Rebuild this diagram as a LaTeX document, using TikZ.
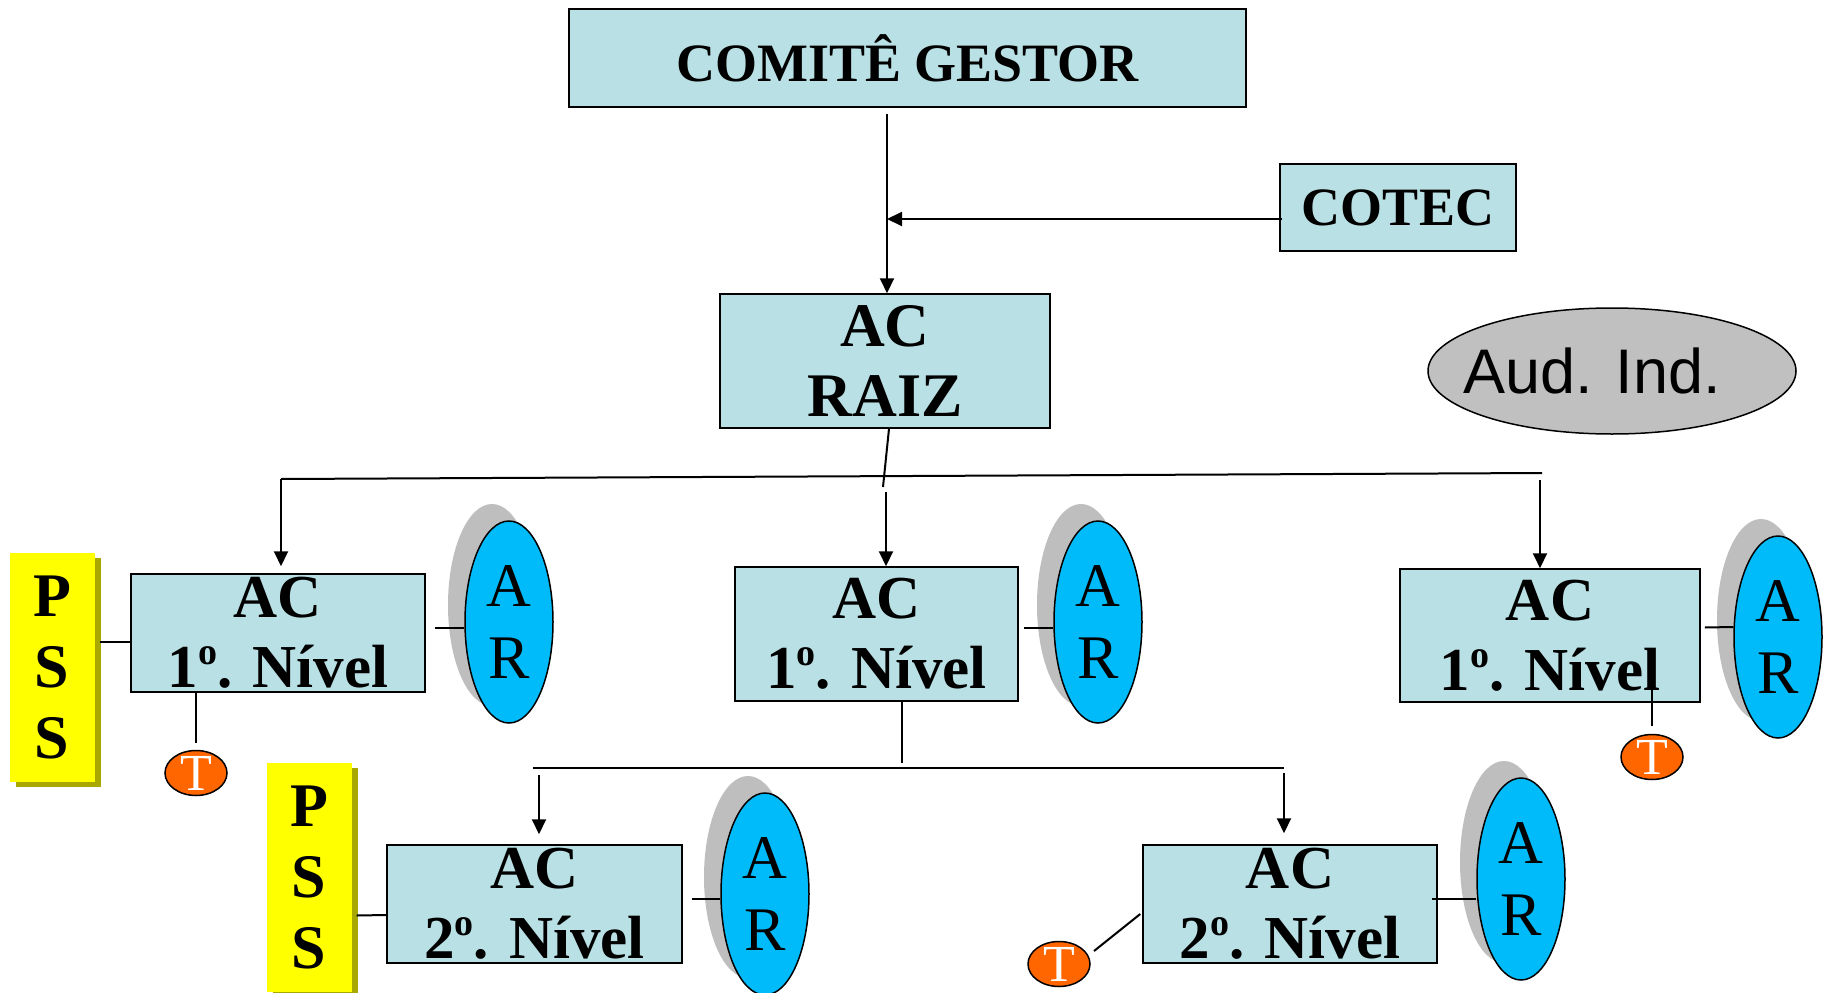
\documentclass[tikz,border=0pt]{standalone}
\usepackage{fontspec}
\setmainfont{Liberation Serif}
\newfontfamily\arialf{Liberation Sans}
\usetikzlibrary{shapes.geometric,arrows.meta,calc,shadows}
\definecolor{boxc}{RGB}{185,224,228}
\definecolor{arblue}{RGB}{0,187,250}
\definecolor{arshadow}{RGB}{190,190,190}
\definecolor{pssyellow}{RGB}{255,255,0}
\definecolor{pssolive}{RGB}{168,168,0}
\definecolor{torange}{RGB}{255,102,0}
\definecolor{audgray}{RGB}{192,192,192}
\newcommand\ordo{\raisebox{23pt}{\fontsize{38}{38}\selectfont o}}
\begin{document}
\begin{tikzpicture}[x=1pt,y=-1pt,
  line/.style={line width=2pt},
  arr/.style={line width=2pt,-{Triangle[length=15pt,width=14pt]}},
  acbox/.style={draw,line width=1.5pt,fill=boxc,inner sep=0pt,align=center,
    font=\bfseries\fontsize{61}{70}\selectfont},
  arnode/.style={ellipse,draw,line width=1.5pt,fill=arblue,minimum width=88pt,
    minimum height=202pt,inner sep=0pt,align=center,
    font=\fontsize{62}{72}\selectfont,
    drop shadow={shadow xshift=-17pt,shadow yshift=17pt,fill=arshadow,opacity=1}},
  pssnode/.style={fill=pssyellow,minimum width=85pt,minimum height=229pt,inner sep=0pt,
    align=center,font=\bfseries\fontsize{62}{71}\selectfont,
    drop shadow={shadow xshift=6pt,shadow yshift=-5pt,fill=pssolive,opacity=1}},
  tnode/.style={ellipse,draw,line width=1.5pt,fill=torange,text=white,minimum width=62pt,
    minimum height=45pt,inner sep=0pt,font=\fontsize{52}{52}\selectfont}
]
\useasboundingbox (0,0) rectangle (1829,993);
\fill[white] (0,0) rectangle (1829,993);

% top boxes
\node[acbox,minimum width=677pt,minimum height=98pt,font=\bfseries\fontsize{54}{60}\selectfont] (cg) at (907.5,58) {COMITÊ GESTOR};
\node[acbox,minimum width=236pt,minimum height=87pt,font=\bfseries\fontsize{54}{60}\selectfont] (cotec) at (1398,207.5) {COTEC};
\node[acbox,minimum width=330pt,minimum height=134pt,font=\bfseries\fontsize{62}{70}\selectfont] (raiz) at (885,361) {AC\\RAIZ};
\node[ellipse,draw,line width=1.5pt,fill=audgray,minimum width=368pt,minimum height=126pt,inner sep=0pt,
  font=\arialf\fontsize{63}{63}\selectfont] (aud) at (1612,371) {\makebox[0pt][c]{\hspace*{-40pt}Aud. Ind.}};

% first level
\node[acbox,minimum width=294pt,minimum height=118pt] (ac1a) at (278,633) {AC\\1\ordo. Nível};
\node[acbox,minimum width=283pt,minimum height=134pt] (ac1b) at (876.5,634) {AC\\1\ordo. Nível};
\node[acbox,minimum width=300pt,minimum height=133pt] (ac1c) at (1550,635.5) {AC\\1\ordo. Nível};

% second level
\node[acbox,minimum width=295pt,minimum height=118pt] (ac2a) at (534.5,904) {AC\\2\ordo. Nível};
\node[acbox,minimum width=294pt,minimum height=118pt] (ac2b) at (1290,904) {AC\\2\ordo. Nível};

% AR ellipses
\node[arnode] (ara) at (509,622) {A\\R};
\node[arnode] (arb) at (1098,622) {A\\R};
\node[arnode] (arc) at (1778,637) {A\\R};
\node[arnode] (ard) at (765,894) {A\\R};
\node[arnode] (are) at (1521,879) {A\\R};

% PSS
\node[pssnode] (pssa) at (52,667) {P\\S\\S};
\node[pssnode] (pssb) at (309,877.5) {P\\S\\S};

% T
\node[tnode] (ta) at (196,773) {\smash{\raisebox{-17pt}{T}}};
\node[tnode] (tb) at (1652,757) {\smash{\raisebox{-17pt}{T}}};
\node[tnode] (tc) at (1059,964) {\smash{\raisebox{-17pt}{T}}};

% coordinates
\coordinate (j1) at (887,219);
\coordinate (rb) at (883,487);
\coordinate (hl) at (281,479);
\coordinate (hr) at (1542,473);
\coordinate (m1) at (886,492);
\coordinate (r1) at (1540,480);
\coordinate (ml) at (533,768);
\coordinate (mr) at (1284,768);
\coordinate (a2l) at (539,775);
\coordinate (a2r) at (1284,773);

% connectors top
\draw[arr] ($(cg.south -| j1)+(0,6)$) -- (j1 |- raiz.north);
\draw[arr] ($(cotec.west)+(3,11.5)$) -- (j1);
\draw[line] ($(raiz.south)+(4,0)$) -- (rb);
\draw[line] (hl) -- (hr);
\draw[arr,shorten >=7pt] (hl) -- (hl |- ac1a.north);
\draw[arr] (m1) -- (m1 |- ac1b.north);
\draw[arr] (r1) -- (r1 |- ac1c.north);

% second level tree
\draw[line,shorten >=5pt] ($(ac1b.south)+(25.5,0)$) -- ($(ac1b.south -| ml)+(369,66)$);
\draw[line] (ml) -- (mr);
\draw[arr,shorten >=10pt] (a2l) -- (a2l |- ac2a.north);
\draw[arr,shorten >=11pt] (a2r) -- (a2r |- ac2b.north);

% AC - AR
\draw[line] ($(ac1a.east)+(9,-5)$) -- ($(ara.west)+(0,6)$);
\draw[line] ($(ac1b.east)+(5,-6)$) -- ($(arb.west)+(0,6)$);
\draw[line] ($(ac1c.east)+(4,-8)$) -- ($(arc.west)+(0,-10)$);
\draw[line] ($(ac2a.east)+(9,-5)$) -- ($(ard.west)+(0,5)$);
\draw[line] ($(ac2b.east)+(-6,-5)$) -- ($(are.west)+(0,20)$);

% PSS - AC
\draw[line] ($(pssa.east)+(5,-25)$) -- ($(ac1a.west)+(0,9)$);
\draw[line] ($(pssb.east)+(5,38)$) -- ($(ac2a.west)+(0,11)$);

% T - AC
\draw[line,shorten <=7pt] (ta.north) -- (ta.north |- ac1a.south);
\draw[line,shorten <=7.5pt] (tb.north) -- ($(tb.north |- ac1c.south)+(0,-14)$);
\draw[line] ($(tc.center)+(35,-13)$) -- ($(ac2b.west)+(-2,10)$);
\end{tikzpicture}
\end{document}
